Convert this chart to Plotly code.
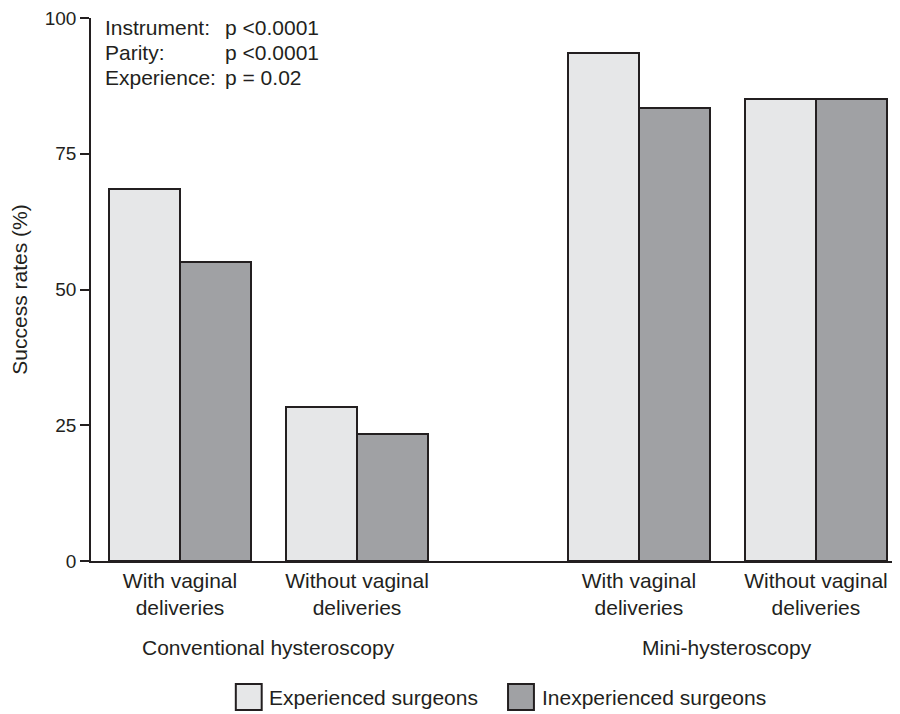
import plotly.graph_objects as go

groups = ["Conventional hysteroscopy", "Mini-hysteroscopy"]
subcats = ["With vaginal<br>deliveries", "Without vaginal<br>deliveries"]
series_names = ["Experienced surgeons", "Inexperienced surgeons"]
experienced = [68.5, 28.4, 93.5, 85.1]
inexperienced = [55.0, 23.4, 83.5, 85.1]
y_ticks = [0, 25, 50, 75, 100]
stats_labels = ["Instrument:", "Parity:", "Experience:"]
stats_values = ["p <0.0001", "p <0.0001", "p = 0.02"]

GROUP_GAP = 2.593
FONT = "Liberation Sans, Arial, Helvetica, sans-serif"
INK = "#231f20"
LIGHT = "#e6e7e8"
DARK = "#a0a1a4"
FS = 21

positions = [g * GROUP_GAP + s for g in range(len(groups)) for s in range(len(subcats))]
tick_text = [subcats[s] for g in range(len(groups)) for s in range(len(subcats))]

fig = go.Figure()
fig.add_trace(go.Bar(x=positions, y=experienced, width=0.4, offset=-0.4,
                     name=series_names[0], marker=dict(color=LIGHT, line=dict(color=INK, width=2))))
fig.add_trace(go.Bar(x=positions, y=inexperienced, width=0.4, offset=0,
                     name=series_names[1], marker=dict(color=DARK, line=dict(color=INK, width=2))))

# group labels
for g, name in enumerate(groups):
    cx = (positions[g * 2] + positions[g * 2 + 1]) / 2
    fig.add_annotation(x=cx, xref="x", y=-0.160, yref="paper", yanchor="middle",
                       text=name, showarrow=False, font=dict(size=FS, color=INK, family=FONT))

# stats text, one line per annotation
LINE_STEP = 0.046
for i, (lab, val) in enumerate(zip(stats_labels, stats_values)):
    yy = 0.9816 - i * LINE_STEP
    fig.add_annotation(x=0.0148, xref="paper", y=yy, yref="paper", xanchor="left", yanchor="middle",
                       text=lab, showarrow=False, font=dict(size=FS, color=INK, family=FONT))
    fig.add_annotation(x=0.163, xref="paper", y=yy, yref="paper", xanchor="left", yanchor="middle",
                       text=val, showarrow=False, font=dict(size=FS, color=INK, family=FONT))

# manual legend
legend_y = -0.2505
legend_items = [(0.179, LIGHT, series_names[0]), (0.5155, DARK, series_names[1])]
for x0, col, name in legend_items:
    fig.add_shape(type="rect", xref="paper", yref="paper",
                  x0=x0, x1=x0 + 0.032, y0=legend_y - 0.024, y1=legend_y + 0.024,
                  fillcolor=col, line=dict(color=INK, width=2))
    fig.add_annotation(x=x0 + 0.039, xref="paper", y=legend_y, yref="paper", xanchor="left",
                       yanchor="middle", text=name, showarrow=False,
                       font=dict(size=FS, color=INK, family=FONT))

fig.update_layout(
    width=892, height=706,
    margin=dict(l=83, r=0, t=10, b=153),
    plot_bgcolor="white", paper_bgcolor="white",
    showlegend=False,
    font=dict(family=FONT, size=FS, color=INK),
    bargap=0,
    xaxis=dict(range=[-0.503, 4.068], tickvals=positions, ticktext=tick_text, automargin=False,
               showline=True, linecolor=INK, linewidth=1.5, ticks="", showgrid=False,
               zeroline=False, tickfont=dict(size=FS, color=INK)),
    yaxis=dict(range=[0, 100], tickvals=y_ticks, showline=True, linecolor=INK, linewidth=1.5,
               ticks="outside", ticklen=9, tickcolor=INK, tickwidth=1.5, showgrid=False,
               zeroline=False, tickfont=dict(size=19, color=INK), ticklabeloverflow="allow",
               automargin=False,
               title=dict(text="Success rates (%)", font=dict(size=FS, color=INK), standoff=23)),
)

fig.write_html("out.html")
